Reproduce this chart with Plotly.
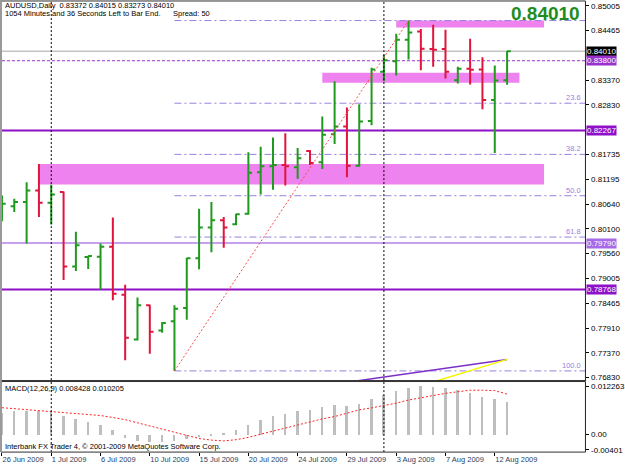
import plotly.graph_objects as go
from datetime import date

# ---------------- data ----------------
dates = ["2009-06-26", "2009-06-28", "2009-06-29", "2009-06-30", "2009-07-01", "2009-07-02",
         "2009-07-03", "2009-07-05", "2009-07-06", "2009-07-07", "2009-07-08", "2009-07-09",
         "2009-07-10", "2009-07-12", "2009-07-13", "2009-07-14", "2009-07-15", "2009-07-16",
         "2009-07-17", "2009-07-19", "2009-07-20", "2009-07-21", "2009-07-22", "2009-07-23",
         "2009-07-24", "2009-07-26", "2009-07-27", "2009-07-28", "2009-07-29", "2009-07-30",
         "2009-07-31", "2009-08-02", "2009-08-03", "2009-08-04", "2009-08-05", "2009-08-06",
         "2009-08-07", "2009-08-09", "2009-08-10", "2009-08-11", "2009-08-12", "2009-08-13"]

opens = [0.80502, 0.80596, 0.80692, 0.80946, 0.80677, 0.80911, 0.79271, 0.79481, 0.79490, 0.79708,
         0.78650, 0.77667, 0.78419, 0.77863, 0.78069, 0.78360, 0.79453, 0.80130, 0.80290, 0.80202,
         0.80436, 0.81347, 0.81479, 0.81507, 0.81457, 0.81813, 0.81566, 0.82185, 0.82353, 0.81492,
         0.82476, 0.83556, 0.83787, 0.84262, 0.84443, 0.84058, 0.84058, 0.83372, 0.83621, 0.83606,
         0.82935, 0.83372]
highs = [0.80836, 0.80764, 0.81129, 0.81529, 0.81070, 0.80924, 0.80036, 0.79512, 0.79780, 0.80349,
         0.78869, 0.78593, 0.78432, 0.78054, 0.78419, 0.79468, 0.80546, 0.80692, 0.80364, 0.80436,
         0.81785, 0.81907, 0.82113, 0.82207, 0.81879, 0.81835, 0.82572, 0.83350, 0.82769, 0.82841,
         0.83643, 0.83934, 0.84393, 0.84684, 0.84496, 0.84590, 0.84480, 0.83665, 0.84284, 0.83875,
         0.83693, 0.84015]
lows = [0.80268, 0.80473, 0.79780, 0.80364, 0.80196, 0.78978, 0.79175, 0.79219, 0.78760, 0.78528,
        0.77208, 0.77645, 0.77354, 0.77813, 0.76976, 0.78104, 0.79212, 0.79584, 0.79686, 0.80180,
        0.80414, 0.80858, 0.80961, 0.81055, 0.81201, 0.81507, 0.81420, 0.81966, 0.81239, 0.81470,
        0.82382, 0.83350, 0.83475, 0.83825, 0.83591, 0.83665, 0.83409, 0.83300, 0.83278, 0.82732,
        0.81770, 0.83273]
closes = [0.80655, 0.80692, 0.80946, 0.80677, 0.80858, 0.79271, 0.79743, 0.79503, 0.79708, 0.78672,
          0.77704, 0.78419, 0.77835, 0.78032, 0.78344, 0.79453, 0.80130, 0.80290, 0.80130, 0.80421,
          0.81333, 0.81479, 0.81507, 0.81479, 0.81654, 0.81551, 0.82170, 0.82353, 0.81492, 0.82463,
          0.83606, 0.83809, 0.84262, 0.84421, 0.84065, 0.84043, 0.83556, 0.83621, 0.83600, 0.82935,
          0.83365, 0.84010]

macd_main = [0.0056, 0.0060, 0.0060, 0.0060, 0.00575, 0.00475, 0.0039, 0.0031, 0.0025, 0.00125,
             -0.00075, -0.0017, -0.0019, -0.0019, -0.0015, -0.0010, -0.0007, -0.00025, 0.0003, 0.00125,
             0.0025, 0.00375, 0.00475, 0.0053, 0.0060, 0.0064, 0.0070, 0.0075, 0.00725, 0.0078,
             0.0092, 0.0102, 0.0112, 0.0120, 0.012263, 0.0122, 0.0118, 0.0114, 0.0106, 0.0096,
             0.0092, 0.008428]
macd_signal = [0.00675, 0.0065, 0.00625, 0.0059, 0.0056, 0.0054, 0.0052, 0.0050, 0.00475, 0.00425,
               0.0037, 0.0029, 0.0021, 0.00125, 0.0004, -0.0004, -0.0011, -0.0015, -0.0017, -0.0014,
               -0.0008, 0.0000, 0.0008, 0.0016, 0.0024, 0.0031, 0.0039, 0.0045, 0.0054, 0.0062,
               0.0067, 0.0073, 0.0079, 0.0087, 0.0093, 0.0099, 0.0104, 0.0108, 0.0112, 0.0112,
               0.0111, 0.010205]

price_ticks = [0.85005, 0.84465, 0.83370, 0.82830, 0.81735, 0.81195, 0.80640, 0.80100,
               0.79560, 0.79005, 0.78465, 0.77910, 0.77370, 0.76830]
macd_ticks = [0.012263, 0.0, -0.00401]
macd_tick_text = ["0.012263", "0.00", "-0.00401"]

# horizontal objects
hline_dark = [0.82267, 0.78768]
hline_light = [0.79790]
dash_level = 0.83800
# rectangles: (start bar, end bar, low price, high price)
rect_x0 = [3, 26, 32]
rect_x1 = [44, 42, 44]
rect_lo = [0.81077, 0.83315, 0.84531]
rect_hi = [0.81529, 0.83534, 0.84684]
# fibo anchors
fib_lo_bar, fib_hi_bar = 14, 33
fib_levels = [0.0, 23.6, 38.2, 50.0, 61.8, 100.0]
# extra indicator lines
purple_x = [28, 41]
purple_y = [0.76725, 0.77229]
yellow_x = [35, 41]
yellow_y = [0.76733, 0.77229]
separators = [4, 31]

# ---------------- geometry ----------------
W, H = 625, 469
n = len(dates)
idx = list(range(n))
X_LEFT, X_RIGHT = 2, 594
XR = [0, (X_RIGHT - X_LEFT) / 12.5]
MAIN_TOP, MAIN_BOT = 1, 383
MACD_TOP, MACD_BOT = 384, 455
def py(p):  # pixel row -> paper y
    return 1 - p / H
def px(p):
    return p / W

GREEN = "#1F9A1F"
RED = "#E0143C"
FIBC = "#9A80E0"
FONT = "Liberation Sans"

def fmt_date(s):
    d = date.fromisoformat(s)
    return f"{d.day} {d.strftime('%b')} {d.year}"

fig = go.Figure()

fig.add_trace(go.Ohlc(
    x=idx, open=opens, high=highs, low=lows, close=closes,
    increasing=dict(line=dict(color=GREEN, width=2)),
    decreasing=dict(line=dict(color=RED, width=2)),
    tickwidth=0.3, xaxis="x", yaxis="y", hoverinfo="skip"))

fib_low = lows[fib_lo_bar]
fib_high = highs[fib_hi_bar]
fig.add_trace(go.Scatter(x=[fib_lo_bar, fib_hi_bar], y=[fib_low, fib_high], mode="lines",
                         line=dict(color="#FF4B4B", width=1, dash="2px,2px"),
                         xaxis="x", yaxis="y", hoverinfo="skip"))
fig.add_trace(go.Scatter(x=purple_x, y=purple_y, mode="lines",
                         line=dict(color="#7B2FC8", width=1.5), xaxis="x", yaxis="y", hoverinfo="skip"))
fig.add_trace(go.Scatter(x=yellow_x, y=yellow_y, mode="lines",
                         line=dict(color="#F5F500", width=1.5), xaxis="x", yaxis="y", hoverinfo="skip"))

fig.add_trace(go.Bar(x=idx, y=macd_main, width=0.16, marker=dict(color="#BEBEBE", line=dict(width=0)),
                     xaxis="x2", yaxis="y2", hoverinfo="skip"))
fig.add_trace(go.Scatter(x=idx, y=macd_signal, mode="lines",
                         line=dict(color="#FF2020", width=1, dash="2px,2px"),
                         xaxis="x2", yaxis="y2", hoverinfo="skip"))

shapes = []
# rectangles (background)
for a, b, lo, hi in zip(rect_x0, rect_x1, rect_lo, rect_hi):
    shapes.append(dict(type="rect", xref="x", yref="y", x0=a, x1=b, y0=lo, y1=hi,
                       fillcolor="#EE82EE", line=dict(width=0), layer="below"))
# bid line & dash level
shapes.append(dict(type="line", xref="x domain", yref="y", x0=0, x1=1, y0=closes[-1], y1=closes[-1],
                   line=dict(color="#C4C4C4", width=1.5), layer="below"))
shapes.append(dict(type="line", xref="x domain", yref="y", x0=0, x1=1, y0=dash_level, y1=dash_level,
                   line=dict(color="#9932CC", width=1, dash="3px,2px"), layer="below"))
for v in hline_dark:
    shapes.append(dict(type="line", xref="x domain", yref="y", x0=0, x1=1, y0=v, y1=v,
                       line=dict(color="#8E10C8", width=2), layer="below"))
for v in hline_light:
    shapes.append(dict(type="line", xref="x domain", yref="y", x0=0, x1=1, y0=v, y1=v,
                       line=dict(color="#C8A0EE", width=2), layer="below"))
# fibonacci levels
fib_values = [fib_high - lv / 100 * (fib_high - fib_low) for lv in fib_levels]
for v in fib_values:
    shapes.append(dict(type="line", xref="x", yref="y", x0=fib_lo_bar, x1=XR[1], y0=v, y1=v,
                       line=dict(color=FIBC, width=1, dash="7px,3px,2px,3px"), layer="below"))
# period separators
for s in separators:
    shapes.append(dict(type="line", xref="x", yref="paper", x0=s, x1=s, y0=py(MACD_BOT), y1=py(MAIN_TOP),
                       line=dict(color="#000000", width=1, dash="2px,2px")))
# panel borders
shapes.append(dict(type="rect", xref="paper", yref="paper", x0=px(1), x1=px(X_RIGHT),
                   y0=py(MAIN_BOT), y1=py(MAIN_TOP), line=dict(color="#303030", width=1)))
shapes.append(dict(type="rect", xref="paper", yref="paper", x0=px(1), x1=px(X_RIGHT),
                   y0=py(MACD_BOT), y1=py(MACD_TOP), line=dict(color="#303030", width=1)))
shapes.append(dict(type="line", xref="paper", yref="paper", x0=px(0.8), x1=px(0.8),
                   y0=py(MACD_BOT), y1=py(0), line=dict(color="#9A9A9A", width=2)))

ann = []
small = dict(family=FONT, size=7.5, color="#000000")
ann.append(dict(xref="paper", yref="paper", x=px(3), y=py(6), xanchor="left", yanchor="middle",
                text=f"AUDUSD,Daily  {opens[-1]:.5f} {highs[-1]:.5f} {lows[-1]:.5f} {closes[-1]:.5f}",
                showarrow=False, font=small))
ann.append(dict(xref="paper", yref="paper", x=px(3), y=py(13.5), xanchor="left", yanchor="middle",
                text="1054 Minutes and 36 Seconds Left to Bar End.      Spread: 50",
                showarrow=False, font=small))
ann.append(dict(xref="paper", yref="paper", x=px(591), y=py(14), xanchor="right", yanchor="middle",
                text=f"<b>{closes[-1]:.5f}</b>", showarrow=False,
                font=dict(family=FONT, size=19, color="#1E8C1E")))
ann.append(dict(xref="paper", yref="paper", x=px(3), y=py(391), xanchor="left", yanchor="middle",
                text=f"MACD(12,26,9) {macd_main[-1]:.6f} {macd_signal[-1]:.6f}",
                showarrow=False, font=small))
ann.append(dict(xref="paper", yref="paper", x=px(3), y=py(449.5), xanchor="left", yanchor="middle",
                text="Interbank FX Trader 4, © 2001-2009 MetaQuotes Software Corp.",
                showarrow=False, font=small))
for lv, v in zip(fib_levels, fib_values):
    if lv == 0.0:
        continue
    ann.append(dict(xref="paper", yref="y", x=px(592), y=v, xanchor="right", yanchor="bottom",
                    text=f"{lv:.1f}", showarrow=False, yshift=-1,
                    font=dict(family=FONT, size=7.5, color=FIBC)))
# right-axis boxed labels
boxes = [(hline_light[0], "#A66AE6"), (hline_dark[1], "#8E10C8"), (hline_dark[0], "#8E10C8"),
         (closes[-1], "#000000"), (dash_level, "#9932CC")]
for v, c in boxes:
    ann.append(dict(xref="paper", yref="y", x=px(X_RIGHT + 0.5), y=v, xanchor="left", yanchor="middle",
                    text=f"{v:.5f}", showarrow=False, bgcolor=c, borderpad=0,
                    font=dict(family=FONT, size=8, color="#FFFFFF")))

axfont = dict(family=FONT, size=8, color="#000000")
fig.update_layout(
    width=W, height=H, margin=dict(l=0, r=0, t=0, b=0),
    paper_bgcolor="#FFFFFF", plot_bgcolor="#FFFFFF", showlegend=False,
    shapes=shapes, annotations=ann, bargap=0,
    xaxis=dict(domain=[px(X_LEFT), px(X_RIGHT)], range=XR, anchor="y", showticklabels=False,
               showgrid=False, zeroline=False, rangeslider=dict(visible=False), ticks=""),
    yaxis=dict(domain=[py(MAIN_BOT), py(MAIN_TOP)],
               range=[0.85005 - (MAIN_BOT - 6) * 0.0002186, 0.85005 + (6 - MAIN_TOP) * 0.0002186],
               side="right", anchor="x", tickvals=price_ticks, ticktext=[f"{t:.5f}" for t in price_ticks],
               ticks="outside", ticklen=3, tickcolor="#000000", showline=True, linecolor="#000000",
               showgrid=False, zeroline=False, tickfont=axfont),
    xaxis2=dict(domain=[px(X_LEFT), px(X_RIGHT)], range=XR, anchor="y2",
                tickvals=idx[::4], ticktext=[fmt_date(d) for d in dates[::4]],
                ticks="outside", ticklen=3, tickcolor="#000000", ticklabelposition="outside right",
                showgrid=False, zeroline=False, showline=False, tickfont=dict(family=FONT, size=7.5)),
    yaxis2=dict(domain=[py(MACD_BOT), py(MACD_TOP)], range=[-(MACD_BOT - 437) / 3955, (437 - MACD_TOP) / 3955],
                side="right", anchor="x2", tickvals=macd_ticks, ticktext=macd_tick_text,
                ticks="outside", ticklen=3, tickcolor="#000000", showline=True, linecolor="#000000",
                showgrid=False, zeroline=False, tickfont=axfont),
)

fig.write_html("out.html")
